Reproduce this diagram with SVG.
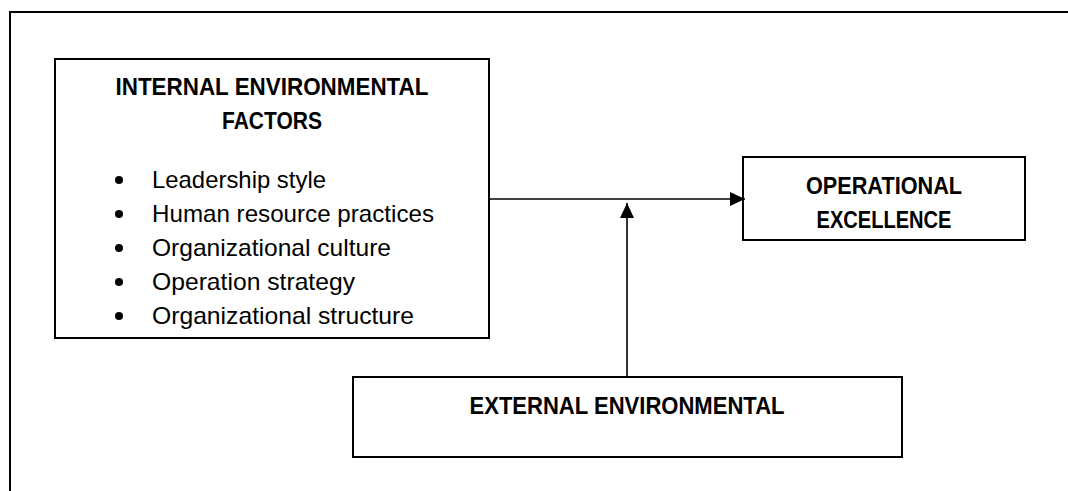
<svg xmlns="http://www.w3.org/2000/svg" width="1068" height="491" viewBox="0 0 1068 491">
<style>
.box{fill:#fff;stroke:#000;stroke-width:2}
.frame{fill:none;stroke:#000;stroke-width:2}
.conn{fill:none;stroke:#000;stroke-width:1.6}
.h{font-family:"Liberation Sans",Arial,sans-serif;font-weight:bold;font-size:23px;fill:#000;text-anchor:middle}
.t{font-family:"Liberation Sans",Arial,sans-serif;font-size:24px;fill:#000}
.b{fill:#000}
</style>
<defs>
<marker id="arr" markerUnits="userSpaceOnUse" markerWidth="16" markerHeight="14" refX="15" refY="7" orient="auto">
<path d="M0,0 L15,7 L0,14 Z" fill="#000"/>
</marker>
</defs>
<rect width="1068" height="491" fill="#fff"/>
<path class="frame" d="M10,491 L10,12 L1068,12"/>
<g id="internal">
<rect class="box" x="55" y="59" width="434" height="279"/>
<text class="h" x="272" y="95" textLength="313" lengthAdjust="spacingAndGlyphs">INTERNAL ENVIRONMENTAL</text>
<text class="h" x="272" y="128.5" textLength="100" lengthAdjust="spacingAndGlyphs">FACTORS</text>
<circle class="b" cx="119" cy="180" r="4"/>
<circle class="b" cx="119" cy="214" r="4"/>
<circle class="b" cx="119" cy="248" r="4"/>
<circle class="b" cx="119" cy="282" r="4"/>
<circle class="b" cx="119" cy="316" r="4"/>
<text class="t" x="152" y="187.5" textLength="174" lengthAdjust="spacingAndGlyphs">Leadership style</text>
<text class="t" x="152" y="221.5" textLength="282" lengthAdjust="spacingAndGlyphs">Human resource practices</text>
<text class="t" x="152" y="255.5" textLength="239" lengthAdjust="spacingAndGlyphs">Organizational culture</text>
<text class="t" x="152" y="289.5" textLength="203" lengthAdjust="spacingAndGlyphs">Operation strategy</text>
<text class="t" x="152" y="323.5" textLength="262" lengthAdjust="spacingAndGlyphs">Organizational structure</text>
</g>
<g id="operational">
<rect class="box" x="743" y="157" width="282" height="83"/>
<text class="h" x="884" y="194" textLength="156" lengthAdjust="spacingAndGlyphs">OPERATIONAL</text>
<text class="h" x="884" y="228" textLength="135" lengthAdjust="spacingAndGlyphs">EXCELLENCE</text>
</g>
<g id="external">
<rect class="box" x="353" y="377" width="549" height="80"/>
<text class="h" x="627" y="413.5" textLength="315" lengthAdjust="spacingAndGlyphs">EXTERNAL ENVIRONMENTAL</text>
</g>
<g id="connectors">
<line class="conn" x1="490" y1="199" x2="745" y2="199" marker-end="url(#arr)"/>
<line class="conn" x1="627" y1="376" x2="627" y2="203" marker-end="url(#arr)"/>
</g>
</svg>
